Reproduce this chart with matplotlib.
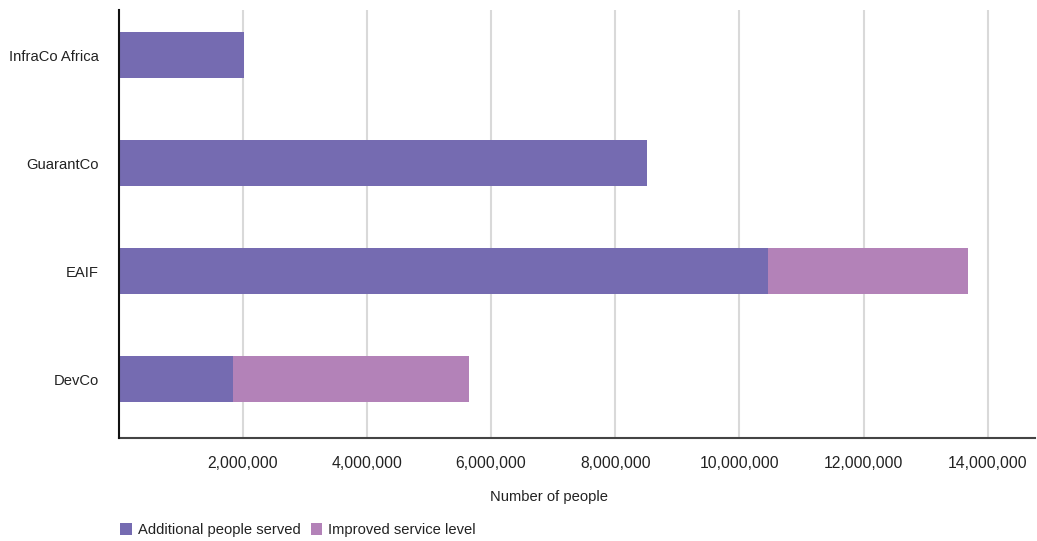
# Horizontal stacked bar: people served by company
import numpy as np
import matplotlib
matplotlib.use('Agg')
import matplotlib.pyplot as plt
from matplotlib.ticker import FuncFormatter

# data
companies = ['InfraCo Africa', 'GuarantCo', 'EAIF', 'DevCo']
additional_served = [2020000, 8510000, 10460000, 1840000]
improved_service = [0, 0, 3220000, 3810000]
x_ticks = [2000000, 4000000, 6000000, 8000000, 10000000, 12000000, 14000000]
series_names = ['Additional people served', 'Improved service level']

plt.rcParams['font.family'] = ['Liberation Sans', 'DejaVu Sans']
plt.rcParams['font.size'] = 10.6
text_col = '#222222'

fig = plt.figure(figsize=(10.37, 5.41), dpi=100)
W, H = 1037, 541
ax = fig.add_axes([118.5 / W, 1 - 438 / H, (1035 - 118.5) / W, (438 - 10) / H])

y = np.arange(len(companies))
ax.barh(y, additional_served, height=0.426, color='#756bb1',
        label=series_names[0], zorder=3)
ax.barh(y, improved_service, left=additional_served, height=0.426,
        color='#b382b8', label=series_names[1], zorder=3)

ax.set_xlim(0, (1035 - 118.5) / 62.09 * 1e6)
ax.set_ylim(3.546, -0.417)
ax.set_yticks(y)
ax.set_yticklabels(companies, color=text_col)
ax.set_xticks(x_ticks)
ax.xaxis.set_major_formatter(FuncFormatter(lambda v, p: f'{int(v):,}'))
ax.tick_params(axis='x', length=0, pad=13, colors=text_col, labelsize=11.3)
ax.tick_params(axis='y', length=0, pad=14, colors=text_col)

ax.grid(axis='x', color='#d9d9d9', linewidth=1.5, zorder=0)
ax.set_axisbelow(True)
for s in ['top', 'right']:
    ax.spines[s].set_visible(False)
ax.spines['left'].set_color('#111111')
ax.spines['left'].set_linewidth(1.5)
ax.spines['bottom'].set_color('#444444')
ax.spines['bottom'].set_linewidth(1.5)
ax.spines['left'].set_zorder(4)

ax.set_xlabel('Number of people', color=text_col, va='center')
ax.xaxis.set_label_coords((549 - 118.5) / (1035 - 118.5), (438 - 497) / 428)

fig.legend(loc='center left', bbox_to_anchor=(120 / W, 1 - 530 / H),
           ncol=2, frameon=False, handlelength=0.8, handleheight=0.8,
           handletextpad=0.4, columnspacing=0.7, borderpad=0,
           borderaxespad=0, labelcolor=text_col)

fig.savefig('out.png', dpi=100)
